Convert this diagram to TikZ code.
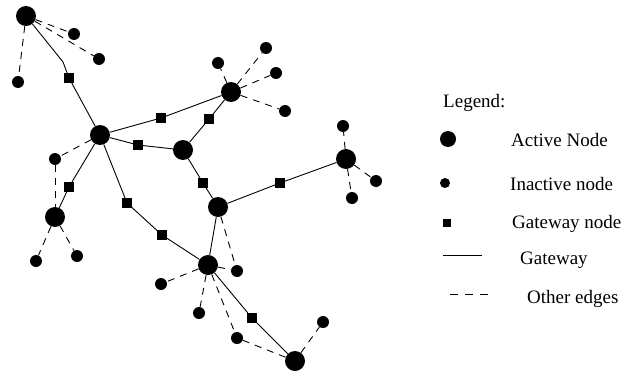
\documentclass[tikz,border=0pt]{standalone}
\usepackage{fontspec}
\setmainfont{Liberation Serif}
\begin{document}
\begin{tikzpicture}[x=1pt,y=-1pt,
  active/.style={circle,fill=black,inner sep=0pt,minimum size=20pt},
  inactive/.style={circle,fill=black,inner sep=0pt,minimum size=12pt},
  gwnode/.style={rectangle,fill=black,inner sep=0pt,minimum size=9.5pt},
  gwedge/.style={line width=0.9pt},
  otheredge/.style={line width=0.9pt,dash pattern=on 7pt off 6pt},
  lbl/.style={anchor=base west,inner sep=0pt,font=\fontsize{19}{23}\selectfont}]
\useasboundingbox (0,0) rectangle (639,377);
% active nodes
\node[active] (A1) at (26,16) {};
\node[active] (A2) at (100,135) {};
\node[active] (A3) at (183,150) {};
\node[active] (A4) at (231,92) {};
\node[active] (A5) at (218,207) {};
\node[active] (A6) at (346,159) {};
\node[active] (A7) at (55,217) {};
\node[active] (A8) at (208,265) {};
\node[active] (A9) at (295,361) {};
% inactive nodes
\node[inactive] (i1) at (74,34) {};
\node[inactive] (i2) at (99,59) {};
\node[inactive] (i3) at (18,82) {};
\node[inactive] (i4) at (218,63) {};
\node[inactive] (i5) at (266,48) {};
\node[inactive] (i6) at (276,73) {};
\node[inactive] (i7) at (285,111) {};
\node[inactive] (i8) at (55,159) {};
\node[inactive] (i9) at (343,126) {};
\node[inactive] (i10) at (376,181) {};
\node[inactive] (i11) at (352,198) {};
\node[inactive] (i12) at (36,261) {};
\node[inactive] (i13) at (77,256) {};
\node[inactive] (i14) at (237,271) {};
\node[inactive] (i15) at (161,284) {};
\node[inactive] (i16) at (199,313) {};
\node[inactive] (i17) at (237,338) {};
\node[inactive] (i18) at (323,322) {};
% gateway nodes
\node[gwnode] (g1) at (69,78) {};
\node[gwnode] (g2) at (161,118) {};
\node[gwnode] (g3) at (209,119) {};
\node[gwnode] (g4) at (138,145) {};
\node[gwnode] (g5) at (203,183) {};
\node[gwnode] (g6) at (280,183) {};
\node[gwnode] (g7) at (69,187) {};
\node[gwnode] (g8) at (127,203) {};
\node[gwnode] (g9) at (162,235) {};
\node[gwnode] (g10) at (252,318) {};
\coordinate (b1) at (63,62);
% gateway edges
\draw[gwedge] (A1) -- (b1) -- (g1) -- (A2);
\draw[gwedge] (A2) -- (g2) -- (A4);
\draw[gwedge] (A2) -- (g4) -- (A3);
\draw[gwedge] (A3) -- (g3) -- (A4);
\draw[gwedge] (A3) -- (g5) -- (A5);
\draw[gwedge] (A5) -- (g6) -- (A6);
\draw[gwedge] (A2) -- (g7) -- (A7);
\draw[gwedge] (A2) -- (g8) -- (g9) -- (A8);
\draw[gwedge] (A5) -- (A8);
\draw[gwedge] (A8) -- (g10) -- (A9);
% other edges
\draw[otheredge] (A1) -- (i1);
\draw[otheredge] (A1) -- (i2);
\draw[otheredge] (A1) -- (i3);
\draw[otheredge] (A4) -- (i4);
\draw[otheredge] (A4) -- (i5);
\draw[otheredge] (A4) -- (i6);
\draw[otheredge] (A4) -- (i7);
\draw[otheredge] (A2) -- (i8);
\draw[otheredge] (i8) -- (A7);
\draw[otheredge] (A7) -- (i12);
\draw[otheredge] (A7) -- (i13);
\draw[otheredge] (A6) -- (i9);
\draw[otheredge] (A6) -- (i10);
\draw[otheredge] (A6) -- (i11);
\draw[otheredge] (A5) -- (i14);
\draw[otheredge] (A8) -- (i14);
\draw[otheredge] (A8) -- (i15);
\draw[otheredge] (A8) -- (i16);
\draw[otheredge] (A8) -- (i17);
\draw[otheredge] (i17) -- (A9);
\draw[otheredge] (A9) -- (i18);
% legend
\node[lbl] (lt) at (443,108) {Legend:};
\node[circle,fill=black,inner sep=0pt,minimum size=16pt] (la) at (448,139) {};
\node[lbl] (lat) at (511,146) {Active Node};
\node[circle,fill=black,inner sep=0pt,minimum size=10pt] (li) at (445,183) {};
\node[lbl] (lit) at (510,190) {Inactive node};
\node[rectangle,fill=black,inner sep=0pt,minimum size=8pt] (lg) at (447,223) {};
\node[lbl] (lgt) at (512,228) {Gateway node};
\coordinate (lw1) at (443,255);
\coordinate (lw2) at (482,255);
\draw[gwedge] (lw1) -- (lw2);
\node[lbl] (lwt) at (520,264) {Gateway};
\coordinate (lo1) at (450,294);
\coordinate (lo2) at (490,294);
\draw[line width=0.9pt,dash pattern=on 8pt off 7pt] (lo1) -- (lo2);
\node[lbl] (lot) at (527,303) {Other edges};
\end{tikzpicture}
\end{document}
